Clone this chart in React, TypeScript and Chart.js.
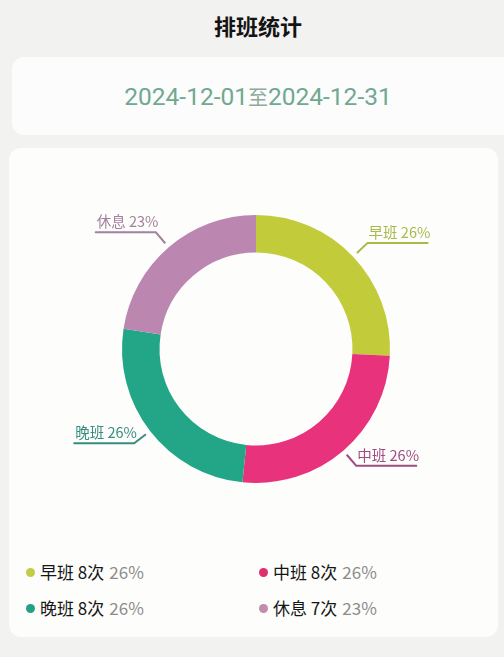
import React, { useEffect, useRef } from "react";
import { Chart, registerables } from "chart.js";

Chart.register(...registerables);

const pageTitle = "排班统计";
const dateFrom = "2024-12-01";
const dateSep = "至";
const dateTo = "2024-12-31";

const categories = ["早班", "中班", "晚班", "休息"];
const counts = [8, 8, 8, 7];
const sliceColors = ["#c2cc3b", "#e8327b", "#22a687", "#bb87b1"];
const labelColors = ["#a9b94c", "#9e4b82", "#368d80", "#a3809e"];
const dotColors = ["#c3cc45", "#df2f6e", "#23a085", "#c28cab"];
const countUnit = "次";

const total = counts.reduce((a, b) => a + b, 0);
const pct = (v: number) => Math.round((v / total) * 100);

const FONT = "'Noto Sans CJK SC', 'Noto Sans', sans-serif";

const leaderPlugin = {
  id: "leaderLabels",
  afterDatasetsDraw(chart: any) {
    const ctx = chart.ctx;
    const meta = chart.getDatasetMeta(0);
    meta.data.forEach((arc: any, i: number) => {
      const { x, y, startAngle, endAngle, outerRadius } = arc.getProps(
        ["x", "y", "startAngle", "endAngle", "outerRadius"],
        true
      );
      const a = (startAngle + endAngle) / 2;
      const c = Math.cos(a);
      const s = Math.sin(a);
      const x1 = x + c * (outerRadius + 6);
      const y1 = y + s * (outerRadius + 6);
      const x2 = x + c * (outerRadius + 20);
      const y2 = y + s * (outerRadius + 20);
      const right = c >= 0;
      const x3 = right ? x2 + 60 : x2 - 60;
      ctx.save();
      ctx.strokeStyle = labelColors[i];
      ctx.lineWidth = 2;
      ctx.lineCap = "round";
      ctx.lineJoin = "round";
      ctx.beginPath();
      ctx.moveTo(x1, y1);
      ctx.lineTo(x2, y2);
      ctx.lineTo(x3, y2);
      ctx.stroke();
      ctx.fillStyle = labelColors[i];
      ctx.font = `14.5px ${FONT}`;
      ctx.textAlign = "left";
      ctx.textBaseline = "alphabetic";
      ctx.fillText(`${categories[i]} ${pct(counts[i])}%`, Math.min(x2, x3) + 1, y2 - 5);
      ctx.restore();
    });
  },
};

function Donut() {
  const ref = useRef<HTMLCanvasElement | null>(null);
  useEffect(() => {
    if (!ref.current) return;
    const chart = new Chart(ref.current, {
      type: "doughnut",
      data: {
        labels: categories,
        datasets: [
          {
            data: counts,
            backgroundColor: sliceColors,
            borderWidth: 0,
            hoverOffset: 0,
            spacing: 0,
          },
        ],
      },
      options: {
        animation: false,
        responsive: false,
        events: [],
        cutout: "72%",
        layout: { padding: { top: 67, bottom: 67, left: 122, right: 114 } },
        plugins: { legend: { display: false }, tooltip: { enabled: false } },
      },
      plugins: [leaderPlugin],
    });
    return () => chart.destroy();
  }, []);
  return (
    <canvas
      ref={ref}
      width={504}
      height={402}
      style={{ position: "absolute", left: 0, top: 148, width: 504, height: 402 }}
    />
  );
}

export default function App() {
  const legendPos = [
    { x: 26, y: 572 },
    { x: 259, y: 572 },
    { x: 26, y: 608 },
    { x: 259, y: 608 },
  ];
  return (
    <div
      style={{
        position: "fixed",
        left: 0,
        top: 0,
        width: 504,
        height: 657,
        background: "#f2f2f0",
        fontFamily: FONT,
        overflow: "hidden",
      }}
    >
      <div
        style={{
          position: "absolute",
          left: 0,
          top: 9,
          width: 516,
          textAlign: "center",
          fontSize: 22,
          fontWeight: 700,
          color: "#141414",
          lineHeight: "32px",
        }}
      >
        {pageTitle}
      </div>
      <div
        style={{
          position: "absolute",
          left: 12,
          top: 57,
          width: 500,
          height: 78,
          background: "#fbfcfb",
          borderRadius: 12,
        }}
      />
      <div
        style={{
          position: "absolute",
          left: 0,
          top: 79,
          width: 516,
          textAlign: "center",
          fontSize: 24.5,
          lineHeight: "36px",
          color: "#70a892",
          fontFamily: "Roboto, 'Noto Sans CJK SC', sans-serif",
        }}
      >
        {dateFrom}
        <span style={{ color: "#8fab9b", fontSize: 20, fontFamily: "'Noto Sans CJK SC', sans-serif" }}>{dateSep}</span>
        {dateTo}
      </div>
      <div
        style={{
          position: "absolute",
          left: 9,
          top: 148,
          width: 489,
          height: 489,
          background: "#fdfdfc",
          borderRadius: 12,
        }}
      />
      <Donut />
      {categories.map((cat, i) => (
        <div
          key={cat}
          style={{
            position: "absolute",
            left: legendPos[i].x,
            top: legendPos[i].y - 13,
            height: 26,
            display: "flex",
            alignItems: "center",
            fontSize: 17,
            lineHeight: "26px",
            whiteSpace: "nowrap",
          }}
        >
          <span
            style={{
              display: "inline-block",
              width: 9,
              height: 9,
              borderRadius: "50%",
              background: dotColors[i],
              marginRight: 5,
            }}
          />
          <span style={{ color: "#151515" }}>
            {cat} {counts[i]}
            {countUnit}
          </span>
          <span style={{ color: "#8c8c8c", marginLeft: 5 }}>{pct(counts[i])}%</span>
        </div>
      ))}
    </div>
  );
}
